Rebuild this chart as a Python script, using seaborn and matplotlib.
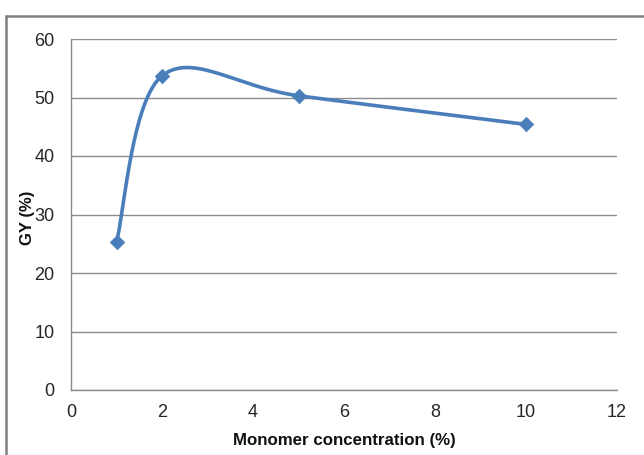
import numpy as np
import pandas as pd
import matplotlib
matplotlib.use("Agg")
import matplotlib.pyplot as plt
from matplotlib.patches import Rectangle
import seaborn as sns

# Grafting yield versus monomer concentration
concentration = [1, 2, 5, 10]
grafting_yield = [25.3, 53.7, 50.3, 45.4]
x_ticks = [0, 2, 4, 6, 8, 10, 12]
y_ticks = [0, 10, 20, 30, 40, 50, 60]

LINE_COLOR = "#4A7EBB"
GRID_COLOR = "#8C8C8C"


def smooth_curve(xs, ys, n=60):
    """Bezier smoothing through the points (spreadsheet-style smoothed line)."""
    p = np.column_stack([xs, ys]).astype(float)
    pts = []
    for i in range(len(p) - 1):
        p0 = p[i - 1] if i > 0 else p[i]
        p1, p2 = p[i], p[i + 1]
        p3 = p[i + 2] if i + 2 < len(p) else p[i + 1]
        c1 = p1 + (p2 - p0) / 6.0
        c2 = p2 - (p3 - p1) / 6.0
        t = np.linspace(0, 1, n)[:, None]
        seg = ((1 - t) ** 3) * p1 + 3 * ((1 - t) ** 2) * t * c1 \
            + 3 * (1 - t) * t ** 2 * c2 + t ** 3 * p2
        pts.append(seg if i == 0 else seg[1:])
    out = np.vstack(pts)
    return out[:, 0], out[:, 1]


sns.set_theme(style="white")
plt.rcParams["font.family"] = ["Liberation Sans", "DejaVu Sans"]

fig = plt.figure(figsize=(6.44, 4.55), dpi=100)
ax = fig.add_axes([71 / 644, 1 - 390 / 455, (617 - 71) / 644, (390 - 39) / 455])

sx, sy = smooth_curve(concentration, grafting_yield)
curve = pd.DataFrame({"x": sx, "y": sy})
points = pd.DataFrame({"x": concentration, "y": grafting_yield})

sns.lineplot(data=curve, x="x", y="y", sort=False, ax=ax, color=LINE_COLOR,
             linewidth=2.6, zorder=3)
sns.scatterplot(data=points, x="x", y="y", ax=ax, marker="D", s=55,
                color=LINE_COLOR, edgecolor=LINE_COLOR, linewidth=0.5, zorder=4)

ax.set_xlim(0, 12)
ax.set_ylim(0, 60)
ax.set_xticks(x_ticks)
ax.set_yticks(y_ticks)
ax.set_xticklabels([str(v) for v in x_ticks])
ax.set_yticklabels([str(v) for v in y_ticks])

ax.yaxis.grid(True, color=GRID_COLOR, linewidth=1.0)
ax.xaxis.grid(False)
ax.set_axisbelow(True)

for side in ["top", "right"]:
    ax.spines[side].set_visible(False)
for side in ["left", "bottom"]:
    ax.spines[side].set_color(GRID_COLOR)
    ax.spines[side].set_linewidth(1.0)

ax.tick_params(axis="both", length=0, labelsize=13, colors="#262626")
ax.tick_params(axis="x", pad=10)
ax.tick_params(axis="y", pad=12)

ax.set_xlabel("Monomer concentration (%)", fontsize=12.2, fontweight="bold",
              color="#111111", labelpad=9)
ax.set_ylabel("GY (%)", fontsize=12, fontweight="bold", color="#111111")
ax.yaxis.set_label_coords(-0.066, 0.49)

# Chart-area border running off the right and bottom edges
fig.patches.append(Rectangle((6 / 644, -0.1), 1.2, 1 - 16 / 455 + 0.1,
                             transform=fig.transFigure, fill=False,
                             edgecolor="#7F7F7F", linewidth=1.8, zorder=10))

fig.savefig("out.png", dpi=100)
